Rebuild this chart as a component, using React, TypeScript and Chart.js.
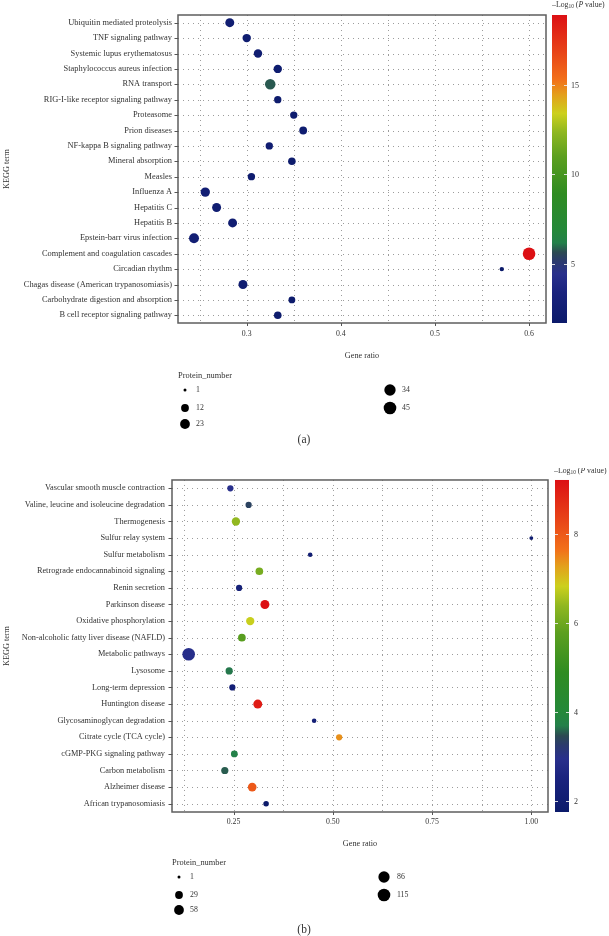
import React, { useEffect, useRef } from 'react';
import { Chart, registerables } from 'chart.js';
Chart.register(...registerables);

// ---------------- Panel (a) data ----------------
const termsA = [
  'Ubiquitin mediated proteolysis',
  'TNF signaling pathway',
  'Systemic lupus erythematosus',
  'Staphylococcus aureus infection',
  'RNA transport',
  'RIG-I-like receptor signaling pathway',
  'Proteasome',
  'Prion diseases',
  'NF-kappa B signaling pathway',
  'Mineral absorption',
  'Measles',
  'Influenza A',
  'Hepatitis C',
  'Hepatitis B',
  'Epstein-barr virus infection',
  'Complement and coagulation cascades',
  'Circadian rhythm',
  'Chagas disease (American trypanosomiasis)',
  'Carbohydrate digestion and absorption',
  'B cell receptor signaling pathway',
];
const ratioA = [0.282, 0.3, 0.312, 0.333, 0.325, 0.333, 0.35, 0.36, 0.324, 0.348, 0.305, 0.256, 0.268, 0.285, 0.244, 0.6, 0.571, 0.296, 0.348, 0.333];
const countA = [18, 15, 15, 15, 28, 10, 10, 12, 10, 11, 10, 20, 18, 18, 24, 45, 2, 18, 8, 11];
const logPA = [2.4, 2.2, 2.3, 2.1, 5.8, 2.0, 2.1, 2.2, 2.3, 2.0, 2.1, 2.5, 2.4, 2.3, 2.6, 18.9, 1.7, 2.3, 1.9, 2.0];
const xTicksA = [0.3, 0.4, 0.5, 0.6];
const xTickLabelsA = ['0.3', '0.4', '0.5', '0.6'];
const xGridA = [0.25, 0.3, 0.35, 0.4, 0.45, 0.5, 0.55, 0.6];
const cbTicksA = [5, 10, 15];
const legendA = [1, 12, 23, 34, 45];

// ---------------- Panel (b) data ----------------
const termsB = [
  'Vascular smooth muscle contraction',
  'Valine, leucine and isoleucine degradation',
  'Thermogenesis',
  'Sulfur relay system',
  'Sulfur metabolism',
  'Retrograde endocannabinoid signaling',
  'Renin secretion',
  'Parkinson disease',
  'Oxidative phosphorylation',
  'Non-alcoholic fatty liver disease (NAFLD)',
  'Metabolic pathways',
  'Lysosome',
  'Long-term depression',
  'Huntington disease',
  'Glycosaminoglycan degradation',
  'Citrate cycle (TCA cycle)',
  'cGMP-PKG signaling pathway',
  'Carbon metabolism',
  'Alzheimer disease',
  'African trypanosomiasis',
];
const ratioB = [0.242, 0.288, 0.256, 1.0, 0.443, 0.315, 0.264, 0.329, 0.292, 0.271, 0.137, 0.239, 0.247, 0.311, 0.453, 0.516, 0.252, 0.228, 0.297, 0.332];
const countB = [14, 14, 36, 2, 4, 28, 14, 45, 36, 28, 115, 23, 14, 45, 4, 14, 19, 23, 41, 9];
const logPB = [2.95, 3.36, 6.4, 2.0, 2.1, 6.1, 2.3, 9.21, 6.8, 5.7, 2.88, 3.66, 2.2, 9.0, 2.2, 7.4, 3.72, 3.55, 8.0, 1.76];
const xTicksB = [0.25, 0.5, 0.75, 1.0];
const xTickLabelsB = ['0.25', '0.50', '0.75', '1.00'];
const xGridB = [0.125, 0.25, 0.375, 0.5, 0.625, 0.75, 0.875, 1.0];
const cbTicksB = [2, 4, 6, 8];
const legendB = [1, 29, 58, 86, 115];

// ---------------- styling ----------------
const FONT = '"Liberation Serif", "Times New Roman", serif';
const TXT = '#333333';
const W = 609;
const H = 468;

const CMAP: [number, string][] = [
  [0.0, '#0b1a6a'],
  [0.1, '#1a237e'],
  [0.16, '#29308c'],
  [0.2, '#2b3a6e'],
  [0.23, '#2c4a52'],
  [0.26, '#23804a'],
  [0.3, '#24883a'],
  [0.42, '#2f8c21'],
  [0.54, '#5c9f1f'],
  [0.62, '#8fb720'],
  [0.68, '#ccd01d'],
  [0.74, '#e3a01c'],
  [0.79, '#f2701a'],
  [0.88, '#e84418'],
  [1.0, '#dc1014'],
];

function hexRgb(h: string) {
  const n = parseInt(h.slice(1), 16);
  return [(n >> 16) & 255, (n >> 8) & 255, n & 255];
}
function cmap(f: number) {
  const t = Math.max(0, Math.min(1, f));
  for (let i = 0; i < CMAP.length - 1; i++) {
    const [f0, c0] = CMAP[i];
    const [f1, c1] = CMAP[i + 1];
    if (t >= f0 && t <= f1) {
      const u = (t - f0) / (f1 - f0 || 1);
      const a = hexRgb(c0);
      const b = hexRgb(c1);
      const r = a.map((v, k) => Math.round(v + (b[k] - v) * u));
      return `rgb(${r[0]},${r[1]},${r[2]})`;
    }
  }
  return CMAP[CMAP.length - 1][1];
}
function sizeR(n: number, nMax: number) {
  return 1.5 + 4.8 * Math.sqrt(Math.max(0, (n - 1) / (nMax - 1)));
}

type Layout = {
  area: { left: number; right: number; top: number; bottom: number };
  cb: { x0: number; x1: number; labelX: number; titleX: number; titleY: number };
  yTitleX: number;
  xTitleY: number;
  xPad: number;
  yPad: number;
  yFont: number;
  legend: { titleX: number; titleY: number; c1Dot: number; c1Lab: number; c2Dot: number; c2Lab: number; rows: number[] };
  tagY: number;
};

type Cfg = {
  terms: string[];
  ratio: number[];
  count: number[];
  logP: number[];
  xMin: number;
  xMax: number;
  xTicks: number[];
  xTickLabels: string[];
  xGrid: number[];
  cbMin: number;
  cbMax: number;
  cbTicks: number[];
  legendVals: number[];
  tag: string;
  L: Layout;
};

const cfgA: Cfg = {
  terms: termsA,
  ratio: ratioA,
  count: countA,
  logP: logPA,
  xMin: 0.227,
  xMax: 0.618,
  xTicks: xTicksA,
  xTickLabels: xTickLabelsA,
  xGrid: xGridA,
  cbMin: Math.min(...logPA),
  cbMax: Math.max(...logPA),
  cbTicks: cbTicksA,
  legendVals: legendA,
  tag: '(a)',
  L: {
    area: { left: 178, right: 546, top: 15, bottom: 323 },
    cb: { x0: 552, x1: 567, labelX: 571, titleX: 552, titleY: 5 },
    yTitleX: 7,
    xTitleY: 356,
    xPad: 6,
    yPad: 6,
    yFont: 8.4,
    legend: { titleX: 178, titleY: 376, c1Dot: 185, c1Lab: 196, c2Dot: 390, c2Lab: 402, rows: [390, 408, 424] },
    tagY: 440,
  },
};

const cfgB: Cfg = {
  terms: termsB,
  ratio: ratioB,
  count: countB,
  logP: logPB,
  xMin: 0.095,
  xMax: 1.042,
  xTicks: xTicksB,
  xTickLabels: xTickLabelsB,
  xGrid: xGridB,
  cbMin: Math.min(...logPB),
  cbMax: Math.max(...logPB),
  cbTicks: cbTicksB,
  legendVals: legendB,
  tag: '(b)',
  L: {
    area: { left: 172, right: 548, top: 6, bottom: 344 },
    cb: { x0: 555, x1: 569, labelX: 574, titleX: 554, titleY: 3 },
    yTitleX: 7,
    xTitleY: 376,
    xPad: 5,
    yPad: 7,
    yFont: 8.3,
    legend: { titleX: 172, titleY: 395, c1Dot: 179, c1Lab: 190, c2Dot: 384, c2Lab: 397, rows: [409, 427, 442] },
    tagY: 462,
  },
};

function decoPlugin(cfg: Cfg) {
  const L = cfg.L;
  const sizeMax = cfg.legendVals[cfg.legendVals.length - 1];
  return {
    id: 'deco',
    beforeDatasetsDraw(chart: any) {
      const { ctx, chartArea: a } = chart;
      const x = chart.scales.x;
      const y = chart.scales.y;
      ctx.save();
      ctx.strokeStyle = '#9c9c9c';
      ctx.lineWidth = 1;
      ctx.setLineDash([1, 4]);
      for (const v of cfg.xGrid) {
        const px = Math.round(x.getPixelForValue(v)) + 0.5;
        ctx.beginPath();
        ctx.moveTo(px, a.top);
        ctx.lineTo(px, a.bottom);
        ctx.stroke();
      }
      cfg.terms.forEach((_t, i) => {
        const py = Math.round(y.getPixelForValue(i)) + 0.5;
        ctx.beginPath();
        ctx.moveTo(a.left, py);
        ctx.lineTo(a.right, py);
        ctx.stroke();
      });
      ctx.restore();
    },
    afterDraw(chart: any) {
      const { ctx, chartArea: a } = chart;
      const x = chart.scales.x;
      const y = chart.scales.y;
      ctx.save();
      // border
      ctx.strokeStyle = '#5e5e5e';
      ctx.lineWidth = 1.5;
      ctx.strokeRect(a.left, a.top, a.right - a.left, a.bottom - a.top);
      // ticks
      ctx.lineWidth = 1;
      ctx.strokeStyle = '#555';
      cfg.terms.forEach((_t, i) => {
        const py = Math.round(y.getPixelForValue(i)) + 0.5;
        ctx.beginPath();
        ctx.moveTo(a.left - 3.5, py);
        ctx.lineTo(a.left, py);
        ctx.stroke();
      });
      cfg.xTicks.forEach((v) => {
        const px = Math.round(x.getPixelForValue(v)) + 0.5;
        ctx.beginPath();
        ctx.moveTo(px, a.bottom);
        ctx.lineTo(px, a.bottom + 3);
        ctx.stroke();
      });

      // colorbar
      const cb = L.cb;
      const g = ctx.createLinearGradient(0, a.bottom, 0, a.top);
      CMAP.forEach(([f, c]) => g.addColorStop(f, c));
      ctx.fillStyle = g;
      ctx.fillRect(cb.x0, a.top, cb.x1 - cb.x0, a.bottom - a.top);
      ctx.strokeStyle = 'rgba(235,235,235,0.9)';
      ctx.lineWidth = 1;
      ctx.fillStyle = TXT;
      ctx.font = `8px ${FONT}`;
      ctx.textAlign = 'left';
      ctx.textBaseline = 'middle';
      cfg.cbTicks.forEach((v) => {
        const f = (v - cfg.cbMin) / (cfg.cbMax - cfg.cbMin);
        const py = Math.round(a.bottom - f * (a.bottom - a.top)) + 0.5;
        ctx.beginPath();
        ctx.moveTo(cb.x0, py);
        ctx.lineTo(cb.x0 + 3, py);
        ctx.moveTo(cb.x1 - 3, py);
        ctx.lineTo(cb.x1, py);
        ctx.stroke();
        ctx.fillText(String(v), cb.labelX, py);
      });
      // colorbar title  -Log10 (P value)
      let tx = cb.titleX;
      const ty = cb.titleY;
      const piece = (s: string, font: string, dy: number) => {
        ctx.font = font;
        ctx.fillText(s, tx, ty + dy);
        tx += ctx.measureText(s).width;
      };
      piece('\u2013Log', `7.8px ${FONT}`, 0);
      piece('10', `5.4px ${FONT}`, 2);
      piece(' (', `7.8px ${FONT}`, 0);
      piece('P', `italic 7.8px ${FONT}`, 0);
      piece(' value)', `7.8px ${FONT}`, 0);

      // axis titles
      ctx.font = `8.2px ${FONT}`;
      ctx.textAlign = 'center';
      ctx.textBaseline = 'middle';
      ctx.fillText('Gene ratio', (a.left + a.right) / 2, L.xTitleY);
      ctx.save();
      ctx.translate(L.yTitleX, (a.top + a.bottom) / 2);
      ctx.rotate(-Math.PI / 2);
      ctx.fillText('KEGG term', 0, 0);
      ctx.restore();

      // size legend
      const lg = L.legend;
      ctx.textAlign = 'left';
      ctx.font = `8.4px ${FONT}`;
      ctx.fillText('Protein_number', lg.titleX, lg.titleY);
      ctx.font = `7.8px ${FONT}`;
      cfg.legendVals.forEach((v, i) => {
        const col = i < 3 ? 0 : 1;
        const row = i < 3 ? i : i - 3;
        const dx = col === 0 ? lg.c1Dot : lg.c2Dot;
        const lx = col === 0 ? lg.c1Lab : lg.c2Lab;
        const py = lg.rows[row];
        ctx.fillStyle = '#000';
        ctx.beginPath();
        ctx.arc(dx, py, sizeR(v, sizeMax), 0, Math.PI * 2);
        ctx.fill();
        ctx.fillStyle = TXT;
        ctx.fillText(String(v), lx, py);
      });

      // panel tag
      ctx.textAlign = 'center';
      ctx.font = `11.5px ${FONT}`;
      ctx.fillText(cfg.tag, 304, L.tagY);
      ctx.restore();
    },
  };
}

function makeChart(canvas: HTMLCanvasElement, cfg: Cfg) {
  const L = cfg.L;
  const sizeMax = cfg.legendVals[cfg.legendVals.length - 1];
  const XH = 20;
  return new Chart(canvas, {
    type: 'scatter',
    data: {
      datasets: [
        {
          data: cfg.ratio.map((v, i) => ({ x: v, y: cfg.terms[i] })) as any,
          pointRadius: cfg.count.map((n) => sizeR(n, sizeMax)),
          pointHoverRadius: cfg.count.map((n) => sizeR(n, sizeMax)),
          pointBackgroundColor: cfg.logP.map((v) => cmap((v - cfg.cbMin) / (cfg.cbMax - cfg.cbMin))),
          pointBorderWidth: 0,
          pointBorderColor: 'rgba(0,0,0,0)',
        },
      ],
    },
    options: {
      responsive: false,
      maintainAspectRatio: false,
      animation: false,
      events: [],
      devicePixelRatio: 1,
      layout: {
        padding: { left: 0, top: L.area.top, right: W - L.area.right, bottom: H - L.area.bottom - XH },
      },
      plugins: { legend: { display: false }, tooltip: { enabled: false }, title: { display: false } },
      scales: {
        x: {
          type: 'linear',
          min: cfg.xMin,
          max: cfg.xMax,
          afterBuildTicks: (s: any) => {
            s.ticks = cfg.xTicks.map((v) => ({ value: v }));
          },
          afterFit: (s: any) => {
            s.height = XH;
          },
          grid: { display: false, drawTicks: false },
          border: { display: false },
          ticks: {
            autoSkip: false,
            maxRotation: 0,
            padding: L.xPad,
            color: TXT,
            font: { family: FONT, size: 7.8 },
            callback: (_v: any, i: number) => cfg.xTickLabels[i],
          },
        },
        y: {
          type: 'category',
          labels: cfg.terms,
          offset: true,
          afterFit: (s: any) => {
            s.width = L.area.left;
          },
          grid: { display: false, drawTicks: false },
          border: { display: false },
          ticks: {
            autoSkip: false,
            padding: L.yPad,
            color: TXT,
            font: { family: FONT, size: L.yFont },
          },
        },
      },
    } as any,
    plugins: [decoPlugin(cfg) as any],
  });
}

function Panel({ cfg, top }: { cfg: Cfg; top: number }) {
  const ref = useRef<HTMLCanvasElement | null>(null);
  useEffect(() => {
    if (!ref.current) return;
    const ch = makeChart(ref.current, cfg);
    return () => ch.destroy();
  }, [cfg]);
  return (
    <canvas
      ref={ref}
      width={W}
      height={H}
      style={{ position: 'absolute', left: 0, top, width: W, height: H, display: 'block' }}
    />
  );
}

export default function App() {
  return (
    <div style={{ position: 'absolute', left: 0, top: 0, width: W, height: 936, background: '#fff' }}>
      <Panel cfg={cfgA} top={0} />
      <Panel cfg={cfgB} top={468} />
    </div>
  );
}
